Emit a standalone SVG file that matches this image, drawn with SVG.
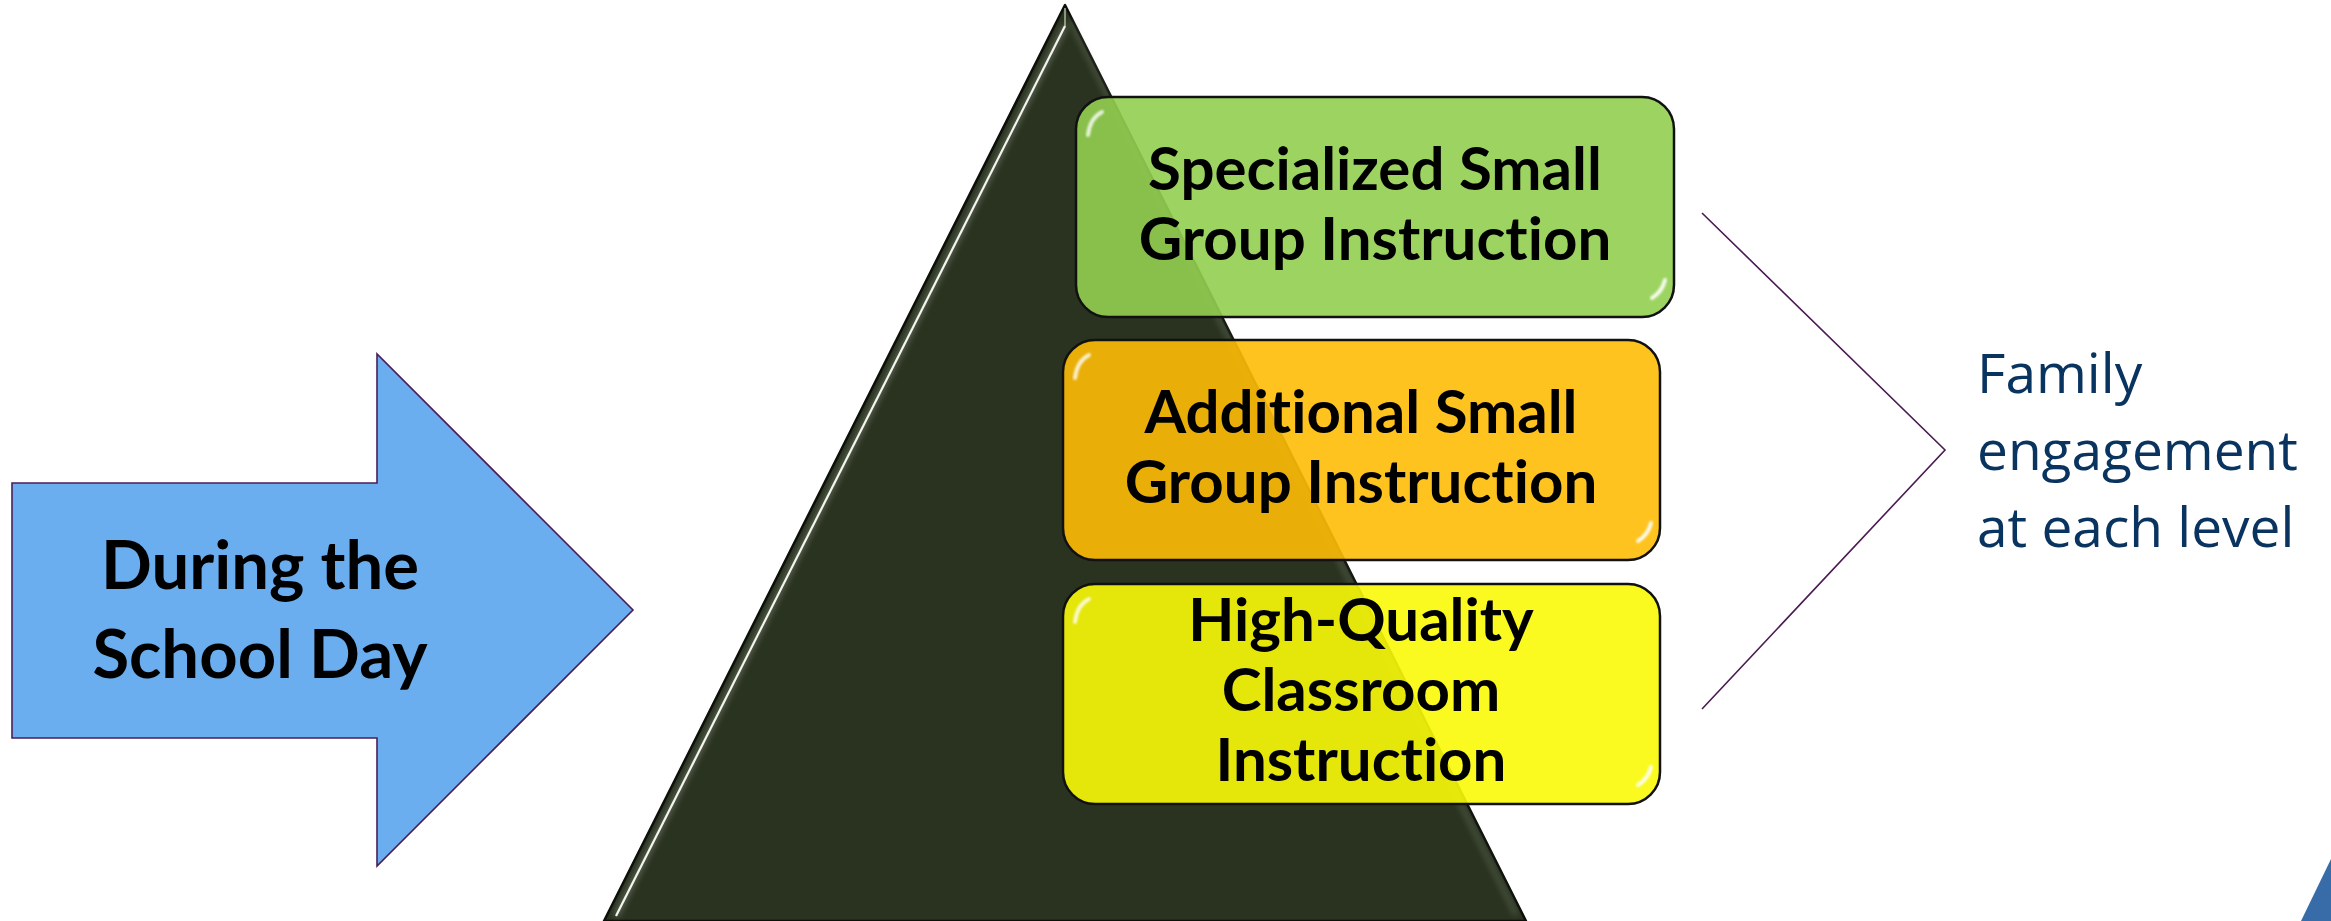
<svg xmlns="http://www.w3.org/2000/svg" width="2331" height="921" viewBox="0 0 2331 921">
  <style>
    text { font-variant-ligatures: none; font-feature-settings: "liga" 0, "clig" 0, "dlig" 0; }
    .label-bold { font-family: Lato, "Liberation Sans", sans-serif; font-weight: 700; fill: #000; text-anchor: middle; }
    .tier-text { font-size: 60px; }
    .arrow-text { font-size: 67px; }
    .side-text { font-family: "Open Sans", "Liberation Sans", sans-serif; font-size: 55px; fill: #0a3460; }
    .tier-box { stroke: #111; stroke-width: 2.5; }
    .gloss { fill: none; stroke: #fff; stroke-linecap: round; filter: url(#soft); }
    .bracket { fill: none; stroke: #4a1a52; stroke-width: 1.6; }
  </style>
  <defs>
    <filter id="soft" x="-20%" y="-20%" width="140%" height="140%">
      <feGaussianBlur stdDeviation="1.2"/>
    </filter>
    <filter id="glow" x="-10%" y="-10%" width="120%" height="120%">
      <feGaussianBlur stdDeviation="3"/>
    </filter>
  </defs>

  <rect width="2331" height="921" fill="#fff"/>

  <!-- pyramid behind the tiers -->
  <g id="pyramid">
    <polygon points="1065,5 604,921 1526,921" fill="#29331f" stroke="#0d0f0a" stroke-width="2.5" stroke-linejoin="round"/>
    <!-- bevel highlight along the left face -->
    <line x1="1065" y1="26" x2="616" y2="916" stroke="#fff" stroke-width="4" opacity="0.35" filter="url(#glow)"/>
    <line x1="1065" y1="26" x2="616" y2="916" stroke="#f4f6ee" stroke-width="2.2"/>
    <line x1="1065" y1="8" x2="1065" y2="26" stroke="#cfd6c4" stroke-width="2" opacity="0.6"/>
    <!-- soft rim on the right face and base -->
    <line x1="1070" y1="20" x2="1516" y2="915" stroke="#b7bdb0" stroke-width="3" opacity="0.35" filter="url(#glow)"/>
    <line x1="612" y1="917" x2="1518" y2="917" stroke="#b7bdb0" stroke-width="3" opacity="0.35" filter="url(#glow)"/>
  </g>

  <!-- left arrow -->
  <g id="school-day">
    <polygon points="12,483 377,483 377,354 633,610 377,866 377,738 12,738" fill="#6aaef0" stroke="#4b1e5a" stroke-width="1.6" stroke-linejoin="miter"/>
    <text class="label-bold arrow-text" x="260" y="589">During the</text>
    <text class="label-bold arrow-text" x="260" y="678">School Day</text>
  </g>

  <!-- top tier -->
  <g id="tier-specialized">
    <rect class="tier-box" x="1076" y="97" width="598" height="220" rx="32" fill="#92cf50" fill-opacity="0.9"/>
    <path class="gloss" d="M1088,135 Q1090,118 1102,112" stroke-width="4" opacity="0.8"/>
    <line class="gloss" x1="1088" y1="140" x2="1088" y2="290" stroke-width="3" opacity="0.55"/>
    <line class="gloss" x1="1665" y1="130" x2="1665" y2="292" stroke-width="3" opacity="0.6"/>
    <path class="gloss" d="M1652,298 Q1662,292 1665,280" stroke-width="4" opacity="0.9"/>
    <text class="label-bold tier-text" x="1375" y="190">Specialized Small</text>
    <text class="label-bold tier-text" x="1375" y="260">Group Instruction</text>
  </g>

  <!-- middle tier -->
  <g id="tier-additional">
    <rect class="tier-box" x="1063" y="340" width="597" height="220" rx="32" fill="#febc06" fill-opacity="0.9"/>
    <path class="gloss" d="M1075,378 Q1077,361 1089,355" stroke-width="4" opacity="0.8"/>
    <line class="gloss" x1="1075" y1="383" x2="1075" y2="533" stroke-width="3" opacity="0.55"/>
    <line class="gloss" x1="1651" y1="373" x2="1651" y2="535" stroke-width="3" opacity="0.6"/>
    <path class="gloss" d="M1638,541 Q1648,535 1651,523" stroke-width="4" opacity="0.9"/>
    <text class="label-bold tier-text" x="1361" y="433">Additional Small</text>
    <text class="label-bold tier-text" x="1361" y="503">Group Instruction</text>
  </g>

  <!-- bottom tier -->
  <g id="tier-classroom">
    <rect class="tier-box" x="1063" y="584" width="597" height="220" rx="32" fill="#f9f908" fill-opacity="0.9"/>
    <path class="gloss" d="M1075,622 Q1077,605 1089,599" stroke-width="4" opacity="0.8"/>
    <line class="gloss" x1="1075" y1="627" x2="1075" y2="777" stroke-width="3" opacity="0.55"/>
    <line class="gloss" x1="1651" y1="617" x2="1651" y2="779" stroke-width="3" opacity="0.6"/>
    <path class="gloss" d="M1638,785 Q1648,779 1651,767" stroke-width="4" opacity="0.9"/>
    <text class="label-bold tier-text" x="1361" y="641">High-Quality</text>
    <text class="label-bold tier-text" x="1361" y="711">Classroom</text>
    <text class="label-bold tier-text" x="1361" y="781">Instruction</text>
  </g>

  <!-- bracket gathering the three tiers -->
  <g id="connectors">
    <polyline class="bracket" points="1702,213 1945,450 1702,709"/>
  </g>

  <g id="family-engagement">
    <text class="side-text" x="1977" y="393">Family</text>
    <text class="side-text" x="1977" y="470">engagement</text>
    <text class="side-text" x="1977" y="547">at each level</text>
  </g>

  <!-- corner accent -->
  <g id="corner-accent">
    <polygon points="2301,921 2331,859 2331,921" fill="#376ca8"/>
  </g>
</svg>
